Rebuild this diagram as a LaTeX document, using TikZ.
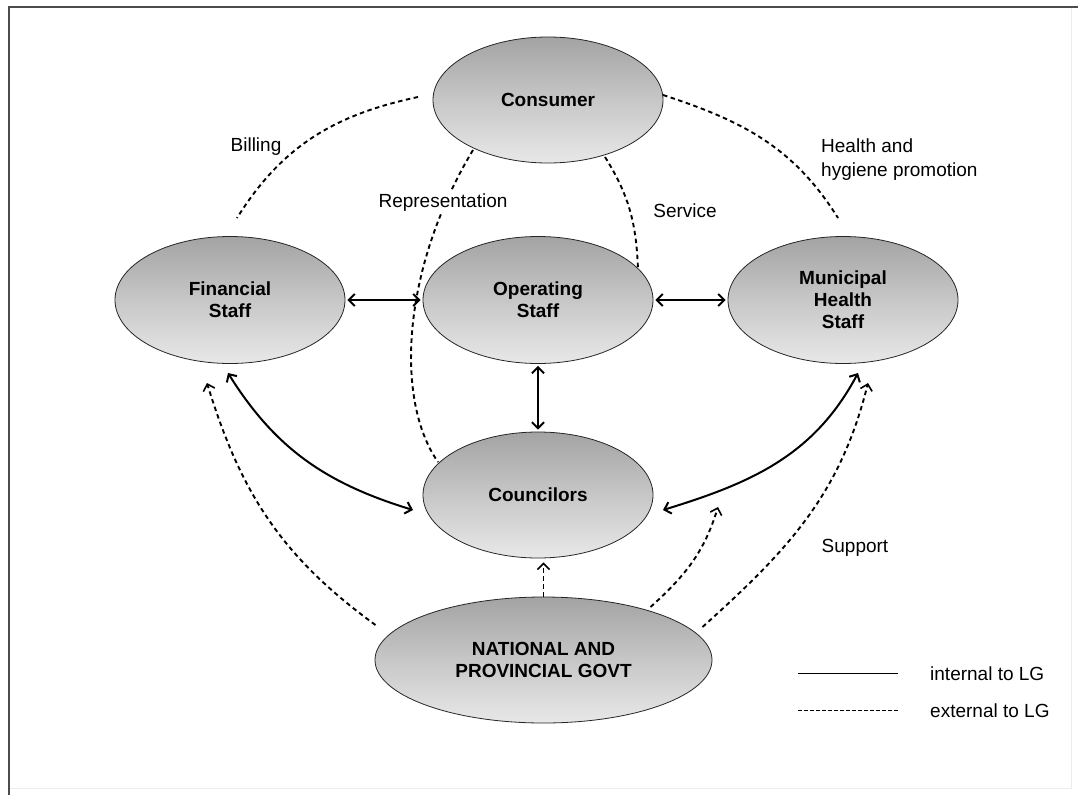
\documentclass[tikz,border=0pt]{standalone}
\usepackage{fontspec}
\setmainfont{Liberation Sans}
\usetikzlibrary{arrows.meta,shapes.geometric,calc}
\begin{document}
\begin{tikzpicture}[x=1pt,y=1pt,
  ent/.style={ellipse, draw=black!85, line width=0.8pt, top color=gray!72, bottom color=gray!18, middle color=gray!44,
    inner sep=0pt, align=center, minimum width=230pt, minimum height=127pt,
    font=\fontsize{19}{22}\selectfont\bfseries},
  lbl/.style={font=\fontsize{19}{24}\selectfont, inner sep=1pt},
  intl/.style={line width=2pt, draw=black},
  ext/.style={line width=1.9pt, draw=black, dash pattern=on 4.5pt off 3.5pt},
  tip/.style={-{Straight Barb[length=6pt,width=12pt,line width=1.6pt]}},
  both/.style={{Straight Barb[length=6pt,width=12pt]}-{Straight Barb[length=6pt,width=12pt]}}
]
\useasboundingbox (0,0) rectangle (1078,-795);
\fill[white] (0,0) rectangle (1078,-795);
% frame
\draw[gray!15, line width=1pt] (9,-788) -- (1071,-788) -- (1071,-7);
\draw[black!70, line width=1.6pt] (9,-795) -- (9,-7) -- (1078,-7);

% entities
\node[ent, minimum height=126pt] (C) at (548,-100) {Consumer};
\node[ent] (F) at (230,-300) {Financial\\Staff};
\node[ent] (O) at (538,-300) {Operating\\Staff};
\node[ent] (M) at (843,-300) {Municipal\\Health\\Staff};
\node[ent, minimum height=126pt] (Co) at (538,-495) {Councilors};
\node[ent, minimum width=337pt, minimum height=126pt] (N) at (543.5,-660) {NATIONAL AND\\PROVINCIAL GOVT};
\coordinate (cs) at ($(Co)+(180,-12)$);

% external links (dashed)
\draw[ext] ($(C)+(-130,3)$) to[out=192,in=58] ($(F)+(7,82)$);
\draw[ext] ($(C)+(115,5)$) to[out=-18,in=122] ($(M)+(-5,82)$);
\draw[ext] ($(C)+(-75,-50)$) to[out=239,in=125,out looseness=1.14,in looseness=0.61] ($(Co)+(-100,33)$);
\draw[ext] ($(C)+(57,-57)$) to[out=-58,in=92] ($(O)+(100,30)$);
\draw[ext,tip] ($(N)+(-168,35)$) to[out=144,in=-73] ($(F)+(-23,-83)$);
\draw[ext,tip,shorten >=4pt] (N.north) -- (N.north |- Co.south);
\draw[ext,tip] ($(N)+(107,53)$) to[out=42,in=253] (cs);
\draw[ext,tip] ($(N)+(159,33)$) to[out=42,in=256] ($(M)+(25,-83)$);

% internal links (solid)
\draw[intl,both,shorten <=2pt,shorten >=2pt] (F.east) -- (O.west);
\draw[intl,both,shorten <=2pt,shorten >=2pt] (O.east) -- (M.west);
\draw[intl,both,shorten <=2pt,shorten >=2pt] (O.south) -- (Co.north);
\draw[intl,both] ($(Co)+(-125,-15)$) to[out=163,in=-58] ($(F)+(-2,-73)$);
\draw[intl,both] ($(Co)+(125,-15)$) to[out=17,in=242] ($(M)+(15,-73)$);

% labels
\node[lbl, anchor=base] (lb) at (256,-151) {Billing};
\node[lbl, anchor=base, fill=white, inner sep=3pt] (lr) at (443,-207) {Representation};
\node[lbl, anchor=base] (ls) at (685,-217) {Service};
\node[lbl, anchor=west, align=left] (lh) at (820,-160) {Health and\\hygiene promotion};
\node[lbl, anchor=base] (lsu) at (855,-552) {Support};

% legend
\coordinate (la1) at (798,-673); \coordinate (lb1) at (898,-673);
\coordinate (la2) at (798,-710); \coordinate (lb2) at (898,-710);
\draw[line width=1pt] (la1) -- (lb1);
\draw[line width=1pt, dash pattern=on 3.5pt off 2.5pt] (la2) -- (lb2);
\node[lbl, anchor=base west] (li) at (929,-680) {internal to LG};
\node[lbl, anchor=base west] (le) at (929,-717) {external to LG};
\end{tikzpicture}
\end{document}
